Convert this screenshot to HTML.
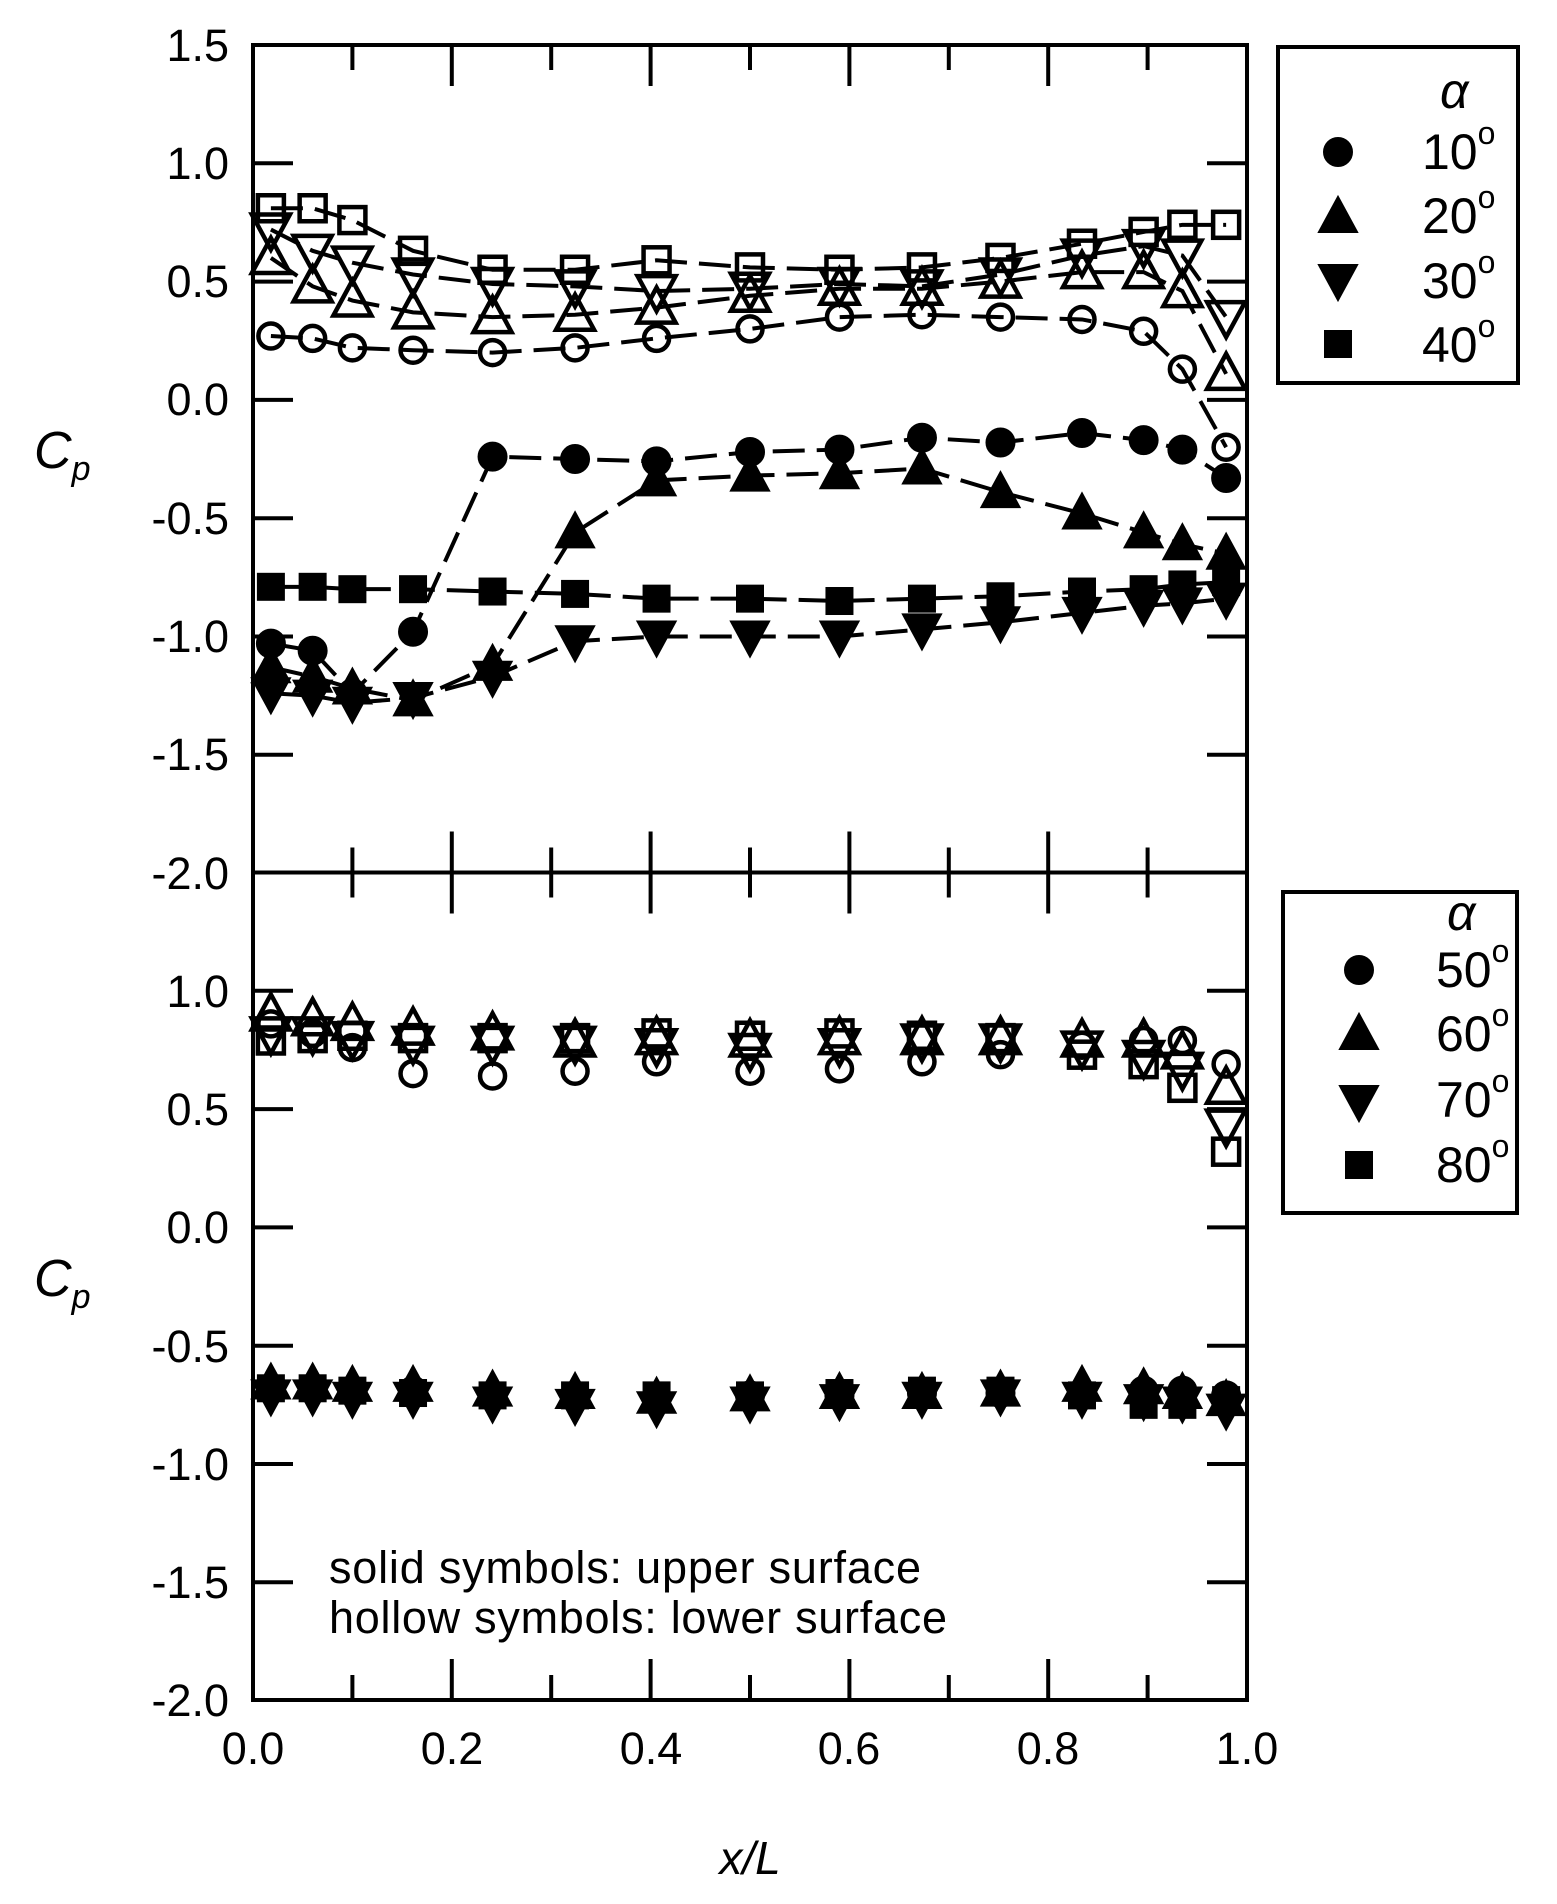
<!DOCTYPE html>
<html><head><meta charset="utf-8"><style>
html,body{margin:0;padding:0;background:#fff;}
svg{display:block;}
text{font-family:"Liberation Sans",sans-serif;fill:#000;}
</style></head><body>
<svg id="s" width="1557" height="1904" viewBox="0 0 1557 1904" xmlns="http://www.w3.org/2000/svg">
<rect width="1557" height="1904" fill="#fff"/>
<g id="axes" stroke="#000" stroke-width="4" fill="none">
<rect x="253" y="45" width="994" height="1655"/>
<line x1="253" y1="872.5" x2="1247" y2="872.5"/>
</g>
<g id="ticks" stroke="#000" stroke-width="4"></g>
<g font-size="45" text-anchor="end">
<text x="229" y="61">1.5</text>
<text x="229" y="179">1.0</text>
<text x="229" y="297">0.5</text>
<text x="229" y="415">0.0</text>
<text x="229" y="534">-0.5</text>
<text x="229" y="652">-1.0</text>
<text x="229" y="770">-1.5</text>
<text x="229" y="889">-2.0</text>
<text x="229" y="1007">1.0</text>
<text x="229" y="1125">0.5</text>
<text x="229" y="1243">0.0</text>
<text x="229" y="1362">-0.5</text>
<text x="229" y="1480">-1.0</text>
<text x="229" y="1598">-1.5</text>
<text x="229" y="1716">-2.0</text>
</g>
<g font-size="45" text-anchor="middle">
<text x="253" y="1764">0.0</text>
<text x="452" y="1764">0.2</text>
<text x="651" y="1764">0.4</text>
<text x="849" y="1764">0.6</text>
<text x="1048" y="1764">0.8</text>
<text x="1247" y="1764">1.0</text>
</g>
<text x="750" y="1874" font-size="46" font-style="italic" text-anchor="middle">x/L</text>
<text x="34" y="468" font-size="52" font-style="italic">C<tspan font-size="34" dy="12">p</tspan></text>
<text x="34" y="1296" font-size="52" font-style="italic">C<tspan font-size="34" dy="12">p</tspan></text>
<text x="329" y="1583" font-size="45" textLength="592">solid symbols: upper surface</text>
<text x="329" y="1633" font-size="45" textLength="618">hollow symbols: lower surface</text>
<g stroke="#000" stroke-width="4" fill="none">
<rect x="1278" y="47" width="240" height="336"/>
<rect x="1283" y="892" width="234" height="321"/>
</g>
<g font-size="50">
<text x="1440" y="108" font-family="Liberation Serif,serif" font-style="italic">α</text>
<text x="1422" y="169">10<tspan font-size="32" dy="-25">o</tspan></text>
<text x="1422" y="233">20<tspan font-size="32" dy="-25">o</tspan></text>
<text x="1422" y="298">30<tspan font-size="32" dy="-25">o</tspan></text>
<text x="1422" y="362">40<tspan font-size="32" dy="-25">o</tspan></text>
<text x="1447" y="930" font-family="Liberation Serif,serif" font-style="italic">α</text>
<text x="1436" y="987">50<tspan font-size="32" dy="-25">o</tspan></text>
<text x="1436" y="1051">60<tspan font-size="32" dy="-25">o</tspan></text>
<text x="1436" y="1117">70<tspan font-size="32" dy="-25">o</tspan></text>
<text x="1436" y="1182">80<tspan font-size="32" dy="-25">o</tspan></text>
</g>
<g id="data"></g>
</svg>
<script>
(function(){
var NS="http://www.w3.org/2000/svg";
function el(p,t,a){var e=document.createElementNS(NS,t);for(var k in a)e.setAttribute(k,a[k]);p.appendChild(e);return e;}
var tk=document.getElementById('ticks');
function L(x1,y1,x2,y2){el(tk,'line',{x1:x1,y1:y1,x2:x2,y2:y2});}
var X0=253,X1=1247;
for(var i=1;i<10;i++){var x=X0+i*99.4,len=(i%2==0)?41:25;
 L(x,45,x,45+len); L(x,872.5-len,x,872.5+len); L(x,1700,x,1700-len);}
var U=236.6;
for(var v=-1.5;v<=1.01;v+=0.5){var y=45+(1.5-v)*U;L(X0,y,X0+40,y);L(X1,y,X1-40,y);
 var y2=872.5+(1.5-v)*U; if(v<1.4){L(X0,y2,X0+40,y2);L(X1,y2,X1-40,y2);}}
var xs=[0.018,0.06,0.1,0.161,0.241,0.324,0.406,0.5,0.59,0.673,0.752,0.834,0.896,0.935,0.979];
var g=document.getElementById('data');
function px(x){return X0+x*994;}
function marker(t,cx,cy,solid){
 var a=solid?{fill:'#000',stroke:'#000','stroke-width':2}:{fill:'none',stroke:'#000','stroke-width':4.5};
 if(t=='c'){a.cx=cx;a.cy=cy;a.r=solid?14:12.5;el(g,'circle',a);}
 else if(t=='u'){a.points=(cx-19)+','+(cy+15)+' '+(cx+19)+','+(cy+15)+' '+cx+','+(cy-20);el(g,'polygon',a);}
 else if(t=='d'){a.points=(cx-19)+','+(cy-15)+' '+(cx+19)+','+(cy-15)+' '+cx+','+(cy+20);el(g,'polygon',a);}
 else {a.x=cx-13;a.y=cy-13;a.width=26;a.height=26;el(g,'rect',a);}
}
function series(base,t,vals,solid,line){
 var pts=vals.map(function(v,i){return [px(xs[i]),base+(1.5-v)*U];});
 if(line){el(g,'polyline',{points:pts.map(function(p){return p.join(',')}).join(' '),fill:'none',stroke:'#000','stroke-width':4,'stroke-dasharray':'32 12'});}
 pts.forEach(function(p){marker(t,p[0],p[1],solid);});
}
var T=45,B=872.5;
series(T,'c',[0.27,0.26,0.22,0.21,0.20,0.22,0.26,0.30,0.35,0.36,0.35,0.34,0.29,0.13,-0.20],false,true);
series(T,'u',[0.60,0.48,0.42,0.37,0.35,0.36,0.39,0.44,0.47,0.47,0.50,0.54,0.54,0.46,0.11],false,true);
series(T,'d',[0.72,0.63,0.58,0.53,0.49,0.48,0.46,0.47,0.49,0.48,0.53,0.61,0.65,0.61,0.35],false,true);
series(T,'s',[0.81,0.81,0.76,0.63,0.55,0.55,0.59,0.56,0.55,0.56,0.60,0.66,0.71,0.74,0.74],false,true);
series(T,'c',[-1.03,-1.06,-1.24,-0.98,-0.24,-0.25,-0.26,-0.22,-0.21,-0.16,-0.18,-0.14,-0.17,-0.21,-0.33],true,true);
series(T,'u',[-1.13,-1.17,-1.22,-1.27,-1.12,-0.56,-0.34,-0.32,-0.31,-0.29,-0.39,-0.48,-0.56,-0.61,-0.65],true,true);
series(T,'d',[-1.24,-1.25,-1.28,-1.26,-1.17,-1.02,-1.0,-1.0,-1.0,-0.97,-0.94,-0.9,-0.87,-0.86,-0.84],true,true);
series(T,'s',[-0.79,-0.79,-0.80,-0.80,-0.81,-0.82,-0.84,-0.84,-0.85,-0.84,-0.83,-0.81,-0.80,-0.78,-0.77],true,true);
series(B,'c',[0.86,0.82,0.76,0.65,0.64,0.66,0.70,0.66,0.67,0.70,0.73,0.77,0.79,0.79,0.69],false,false);
series(B,'u',[0.90,0.88,0.86,0.84,0.82,0.79,0.80,0.79,0.80,0.80,0.80,0.79,0.79,0.74,0.59],false,false);
series(B,'d',[0.82,0.82,0.80,0.78,0.78,0.78,0.77,0.75,0.77,0.79,0.79,0.76,0.72,0.67,0.43],false,false);
series(B,'s',[0.79,0.80,0.81,0.80,0.80,0.80,0.82,0.81,0.82,0.81,0.80,0.73,0.69,0.59,0.32],false,false);
series(B,'c',[-0.68,-0.68,-0.69,-0.69,-0.71,-0.72,-0.72,-0.71,-0.71,-0.70,-0.70,-0.70,-0.69,-0.69,-0.71],true,false);
series(B,'u',[-0.66,-0.66,-0.67,-0.67,-0.69,-0.70,-0.72,-0.71,-0.70,-0.70,-0.69,-0.67,-0.68,-0.70,-0.73],true,false);
series(B,'d',[-0.71,-0.71,-0.72,-0.72,-0.74,-0.75,-0.76,-0.74,-0.73,-0.72,-0.71,-0.72,-0.73,-0.74,-0.77],true,false);
series(B,'s',[-0.68,-0.68,-0.69,-0.70,-0.71,-0.71,-0.71,-0.71,-0.70,-0.69,-0.69,-0.71,-0.75,-0.75,-0.73],true,false);
marker('c',1338,152,true);marker('u',1338,217,true);marker('d',1338,280,true);marker('s',1338,344,true);
marker('c',1359,970,true);marker('u',1359,1034,true);marker('d',1359,1101,true);marker('s',1359,1165,true);
})();
</script>
</body></html>
